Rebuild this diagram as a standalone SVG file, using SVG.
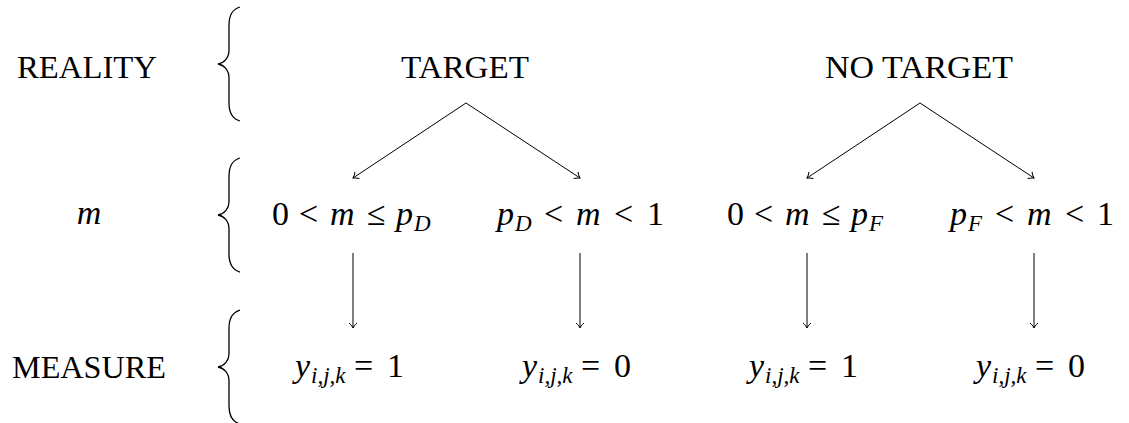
<svg xmlns="http://www.w3.org/2000/svg" width="1129" height="423" viewBox="0 0 1129 423">
<style>
.t{font-family:"Liberation Serif","DejaVu Serif",serif;font-size:31px;fill:#000}
.mt{font-family:"Liberation Serif","DejaVu Serif",serif;font-size:34px;fill:#000}
.i{font-style:italic}
.sub{font-size:23px}
.br{fill:none;stroke:#000;stroke-width:1.3}
.c{fill:none;stroke:#000;stroke-width:1}
</style>
<defs>
<marker id="ar" viewBox="-6 -5 8 10" markerWidth="8" markerHeight="10" refX="0" refY="0" orient="auto" markerUnits="userSpaceOnUse">
<path d="M-5,-4 C-3,-1.5 -1,-0.5 0,0 C-1,0.5 -3,1.5 -5,4" fill="none" stroke="#000" stroke-width="1"/>
</marker>
</defs>
<rect width="1129" height="423" fill="#fff"/>
<g id="labels">
<text id="reality" class="t" x="17" y="78" textLength="140" lengthAdjust="spacingAndGlyphs">REALITY</text>
<text id="m-label" class="mt i" x="89" y="224" text-anchor="middle">m</text>
<text id="measure" class="t" x="12" y="378" textLength="154" lengthAdjust="spacingAndGlyphs">MEASURE</text>
</g>
<g id="braces">
<path class="br" d="M240,7 C233,9 229,15 229,25 L229,50 C229,58 224,63 218,64 C224,65 229,70 229,78 L229,103 C229,113 233,119 240,121"/>
<path class="br" d="M240,158 C233,160 229,166 229,176 L229,201 C229,209 224,214 218,215 C224,216 229,221 229,229 L229,254 C229,264 233,270 240,272"/>
<path class="br" d="M240,310 C233,312 229,318 229,328 L229,353 C229,361 224,366 218,367 C224,368 229,373 229,381 L229,406 C229,416 233,422 240,424"/>
</g>
<g id="target"><text class="t" x="401" y="78" textLength="128" lengthAdjust="spacingAndGlyphs">TARGET</text></g>
<g id="no-target"><text class="t" x="825" y="78" textLength="188" lengthAdjust="spacingAndGlyphs">NO TARGET</text></g>
<g id="m1"><text class="mt" y="225"><tspan x="272">0</tspan><tspan x="299">&lt;</tspan><tspan class="i" x="330">m</tspan><tspan x="367">≤</tspan><tspan class="i" x="396">p</tspan><tspan class="i sub" x="414" dy="6">D</tspan></text></g>
<g id="m2"><text class="mt" y="225"><tspan class="i" x="497">p</tspan><tspan class="i sub" x="515" dy="6">D</tspan><tspan x="544" dy="-6">&lt;</tspan><tspan class="i" x="576">m</tspan><tspan x="614">&lt;</tspan><tspan x="647">1</tspan></text></g>
<g id="m3"><text class="mt" y="225"><tspan x="727">0</tspan><tspan x="754">&lt;</tspan><tspan class="i" x="785">m</tspan><tspan x="822">≤</tspan><tspan class="i" x="851">p</tspan><tspan class="i sub" x="869" dy="6">F</tspan></text></g>
<g id="m4"><text class="mt" y="225"><tspan class="i" x="950">p</tspan><tspan class="i sub" x="968" dy="6">F</tspan><tspan x="995" dy="-6">&lt;</tspan><tspan class="i" x="1027">m</tspan><tspan x="1065">&lt;</tspan><tspan x="1097">1</tspan></text></g>
<g id="y1"><text class="mt" y="377"><tspan class="i" x="295">y</tspan><tspan class="i sub" x="311" dy="6">i,j,k</tspan><tspan x="354" dy="-6">=</tspan><tspan x="387">1</tspan></text></g>
<g id="y2"><text class="mt" y="377"><tspan class="i" x="522">y</tspan><tspan class="i sub" x="538" dy="6">i,j,k</tspan><tspan x="581" dy="-6">=</tspan><tspan x="614">0</tspan></text></g>
<g id="y3"><text class="mt" y="377"><tspan class="i" x="749">y</tspan><tspan class="i sub" x="765" dy="6">i,j,k</tspan><tspan x="808" dy="-6">=</tspan><tspan x="841">1</tspan></text></g>
<g id="y4"><text class="mt" y="377"><tspan class="i" x="976">y</tspan><tspan class="i sub" x="992" dy="6">i,j,k</tspan><tspan x="1035" dy="-6">=</tspan><tspan x="1068">0</tspan></text></g>
<g id="connectors">
<line class="c" x1="466" y1="103" x2="353" y2="178" marker-end="url(#ar)"/>
<line class="c" x1="466" y1="103" x2="580" y2="178" marker-end="url(#ar)"/>
<line class="c" x1="920" y1="103" x2="807" y2="178" marker-end="url(#ar)"/>
<line class="c" x1="920" y1="103" x2="1034" y2="178" marker-end="url(#ar)"/>
<line class="c" x1="353" y1="253" x2="353" y2="328" marker-end="url(#ar)"/>
<line class="c" x1="580" y1="253" x2="580" y2="328" marker-end="url(#ar)"/>
<line class="c" x1="807" y1="253" x2="807" y2="328" marker-end="url(#ar)"/>
<line class="c" x1="1034" y1="253" x2="1034" y2="328" marker-end="url(#ar)"/>
</g>
</svg>
